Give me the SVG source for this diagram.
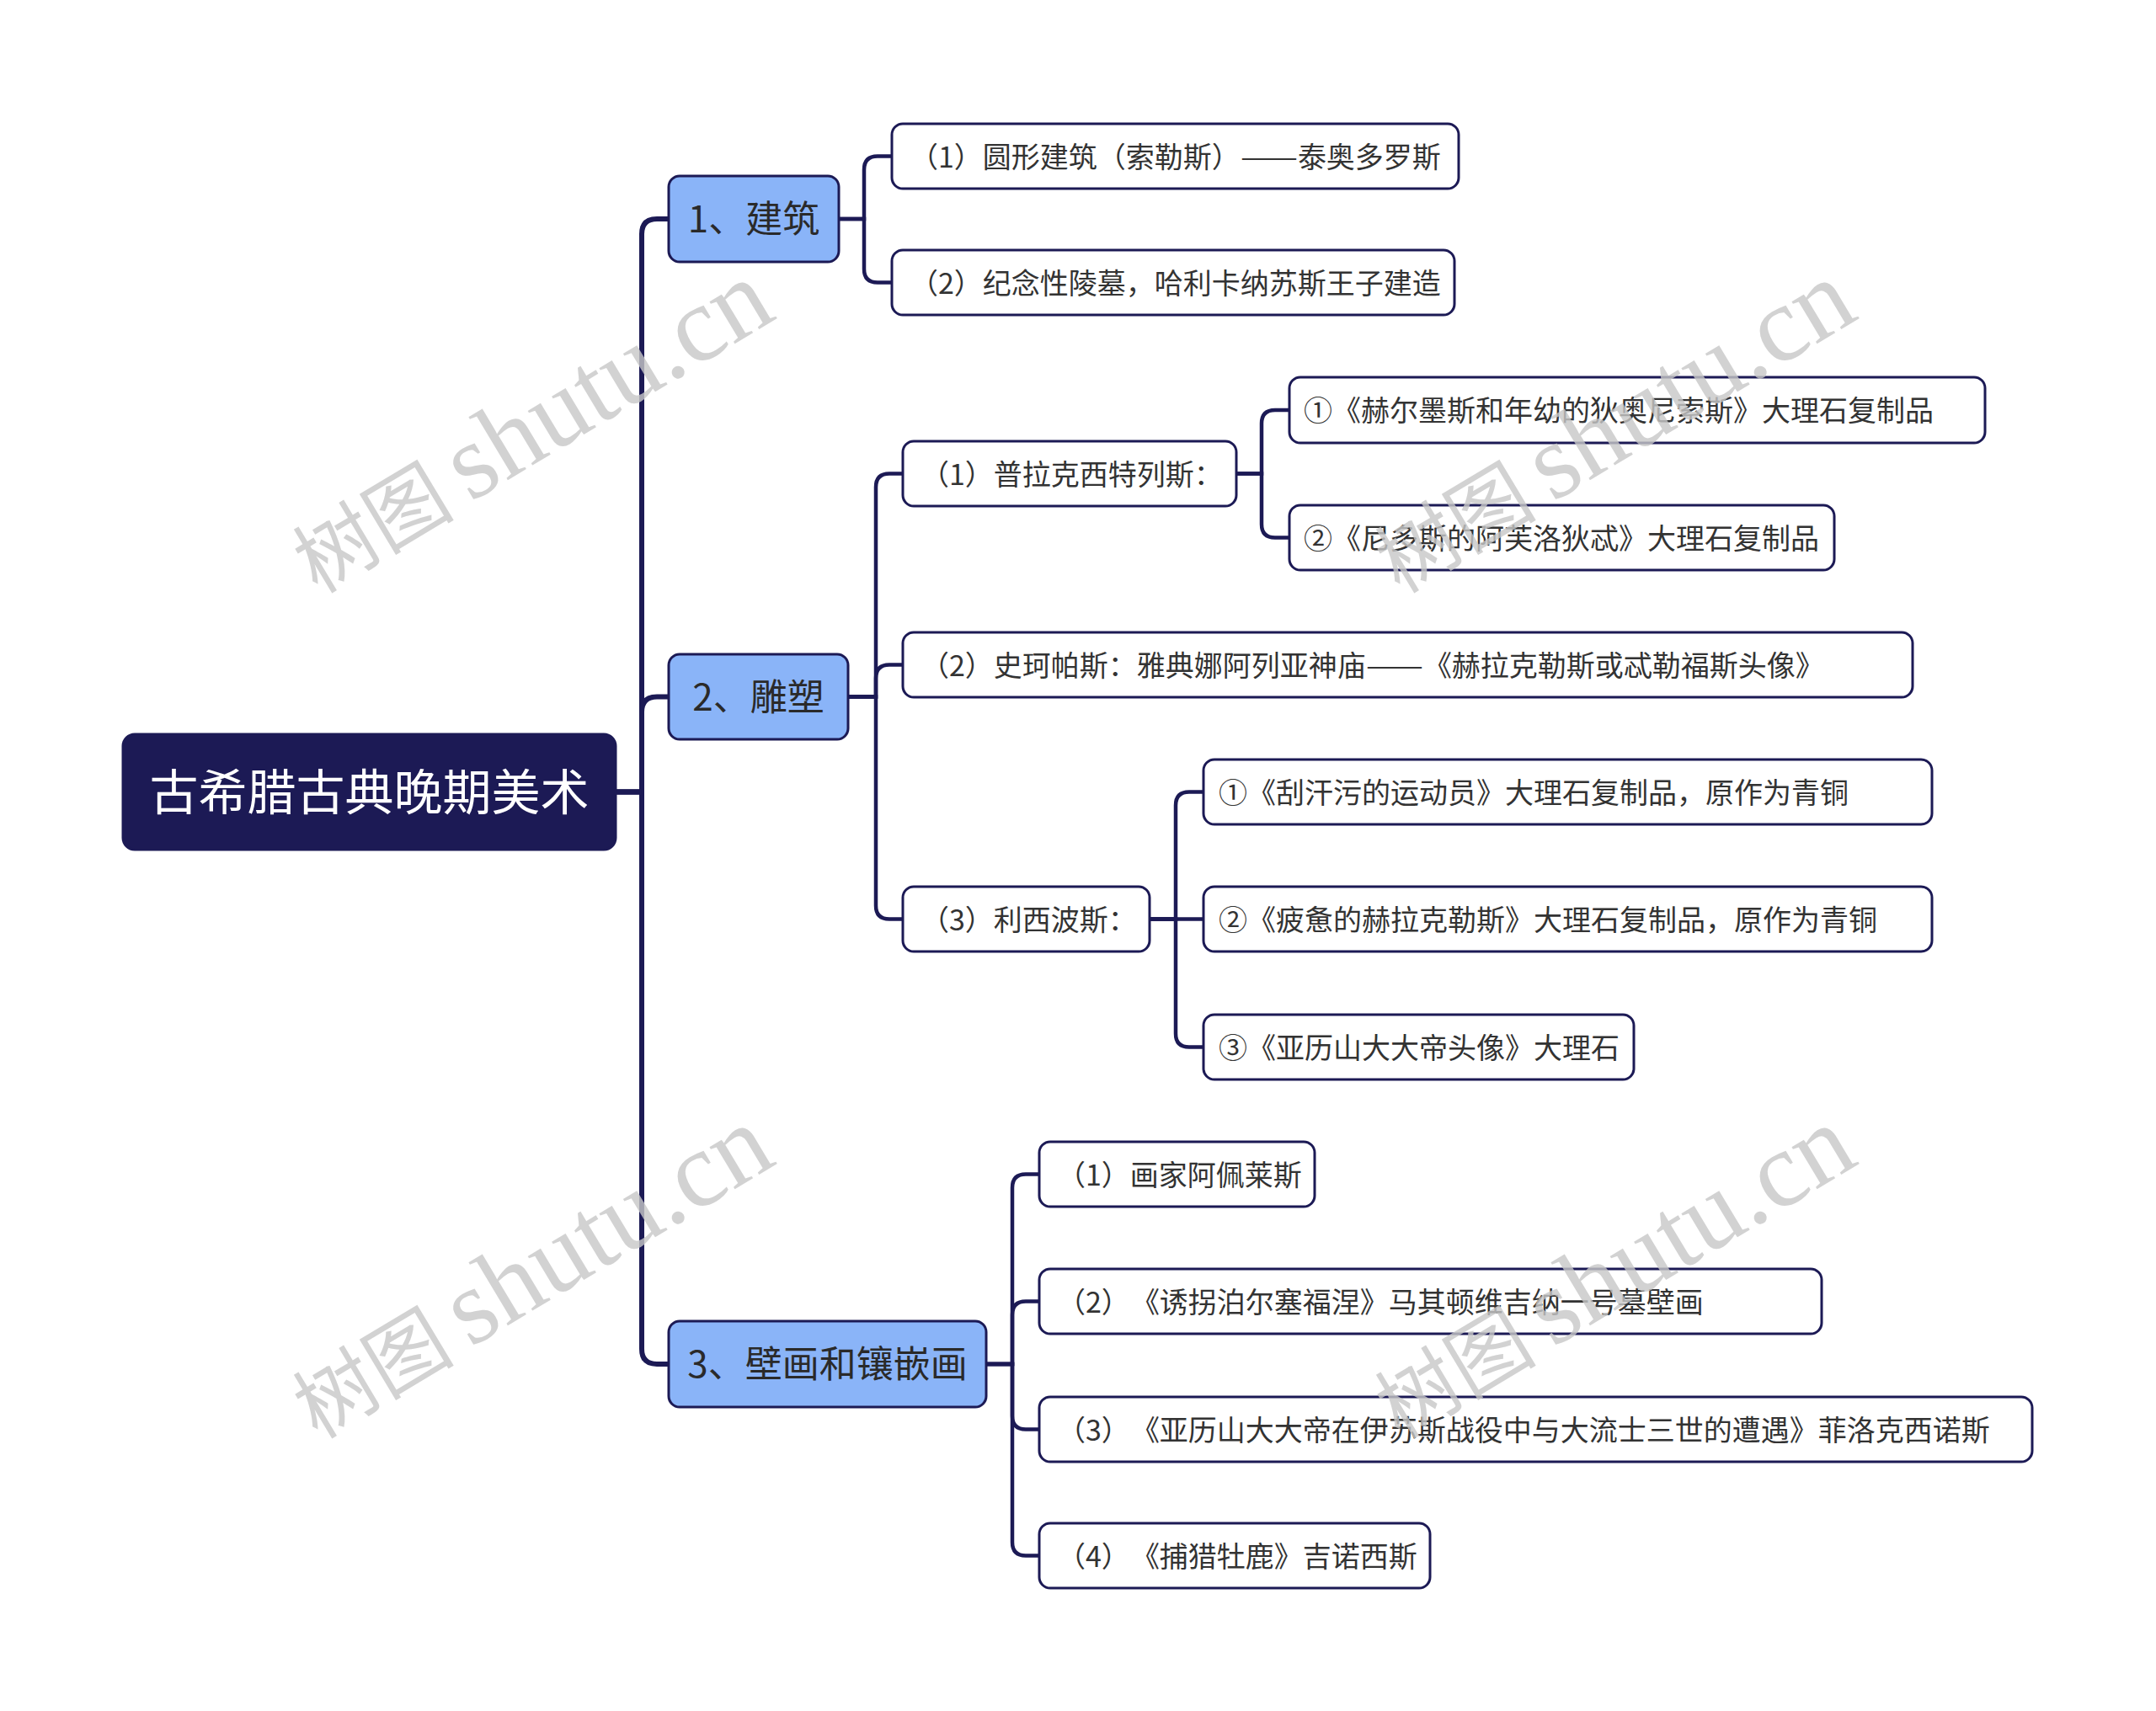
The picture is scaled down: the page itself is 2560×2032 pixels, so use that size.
<svg xmlns="http://www.w3.org/2000/svg" width="2560" height="2032" viewBox="0 0 2560 2032">
<style>
.root{fill:#1c1a55;stroke:#1c1a55;stroke-width:3}
.l1{fill:#8ab4f8;stroke:#1c1a55;stroke-width:3}
.box{fill:#ffffff;stroke:#1c1a55;stroke-width:3}
.t{font-family:"Noto Sans CJK SC","Noto Sans",sans-serif;fill:#333333}
.tr{font-family:"Noto Sans CJK SC","Noto Sans",sans-serif;fill:#ffffff;font-size:58px}
.t1{font-size:44px;fill:#2a2a2a}
.t2{font-size:34px}
.c0{fill:none;stroke:#1c1a55;stroke-width:6}
.c{fill:none;stroke:#1c1a55;stroke-width:4.5}
.wm{font-family:"Liberation Serif","Noto Sans CJK SC",serif;font-size:127px;word-spacing:-12px;fill:#c8c8c8;opacity:0.8}
.wmc{font-size:96px}
</style>
<rect width="2560" height="2032" fill="#ffffff"/>
<g id="connectors">
<path class="c0" d="M731 940.5 H762 V278 Q762 260 780 260 H794"/>
<path class="c0" d="M731 940.5 H762 V845.5 Q762 827.5 780 827.5 H794"/>
<path class="c0" d="M731 940.5 H762 V1602 Q762 1620 780 1620 H794"/>
<path class="c" d="M996 260 H1026 V201.5 Q1026 185.5 1042 185.5 H1059"/>
<path class="c" d="M996 260 H1026 V319.5 Q1026 335.5 1042 335.5 H1059"/>
<path class="c" d="M1007 827.5 H1040 V578.5 Q1040 562.5 1056 562.5 H1072"/>
<path class="c" d="M1007 827.5 H1040 V805.5 Q1040 789.5 1056 789.5 H1072"/>
<path class="c" d="M1007 827.5 H1040 V1075.5 Q1040 1091.5 1056 1091.5 H1072"/>
<path class="c" d="M1468 562.5 H1498 V503 Q1498 487 1514 487 H1531"/>
<path class="c" d="M1468 562.5 H1498 V622.5 Q1498 638.5 1514 638.5 H1531"/>
<path class="c" d="M1365 1091.5 H1396 V956.5 Q1396 940.5 1412 940.5 H1429"/>
<path class="c" d="M1365 1091.5 H1429"/>
<path class="c" d="M1365 1091.5 H1396 V1227.5 Q1396 1243.5 1412 1243.5 H1429"/>
<path class="c" d="M1171 1620 H1202 V1410.5 Q1202 1394.5 1218 1394.5 H1234"/>
<path class="c" d="M1171 1620 H1202 V1561.5 Q1202 1545.5 1218 1545.5 H1234"/>
<path class="c" d="M1171 1620 H1202 V1681.5 Q1202 1697.5 1218 1697.5 H1234"/>
<path class="c" d="M1171 1620 H1202 V1831.5 Q1202 1847.5 1218 1847.5 H1234"/>
</g>
<g id="root">
<rect class="root" x="146" y="872" width="585" height="137" rx="14"/>
<text class="tr" x="438.5" y="961.5" text-anchor="middle">古希腊古典晚期美术</text>
</g>
<g id="n1">
<rect class="l1" x="794" y="209" width="202" height="102" rx="13"/>
<text class="t t1" x="895" y="276" text-anchor="middle">1、建筑</text>
</g>
<g id="n2">
<rect class="l1" x="794" y="777" width="213" height="101" rx="13"/>
<text class="t t1" x="900.5" y="843.5" text-anchor="middle">2、雕塑</text>
</g>
<g id="n3">
<rect class="l1" x="794" y="1569" width="377" height="102" rx="13"/>
<text class="t t1" x="982.5" y="1636" text-anchor="middle">3、壁画和镶嵌画</text>
</g>
<g id="n1a">
<rect class="box" x="1059" y="147" width="673" height="77" rx="13"/>
<text class="t t2" x="1080" y="198.5">（1）圆形建筑（索勒斯）<tspan textLength="68" lengthAdjust="spacingAndGlyphs">——</tspan>泰奥多罗斯</text>
</g>
<g id="n1b">
<rect class="box" x="1059" y="297" width="668" height="77" rx="13"/>
<text class="t t2" x="1080" y="348.5">（2）纪念性陵墓，哈利卡纳苏斯王子建造</text>
</g>
<g id="n2a">
<rect class="box" x="1072" y="524" width="396" height="77" rx="13"/>
<text class="t t2" x="1093" y="575.5">（1）普拉克西特列斯：</text>
</g>
<g id="n2a1">
<rect class="box" x="1531" y="448" width="826" height="78" rx="13"/>
<text class="t t2" x="1548" y="500">①《赫尔墨斯和年幼的狄奥尼索斯》大理石复制品</text>
</g>
<g id="n2a2">
<rect class="box" x="1531" y="600" width="647" height="77" rx="13"/>
<text class="t t2" x="1548" y="651.5">②《尼多斯的阿芙洛狄忒》大理石复制品</text>
</g>
<g id="n2b">
<rect class="box" x="1072" y="751" width="1199" height="77" rx="13"/>
<text class="t t2" x="1093" y="802.5">（2）史珂帕斯：雅典娜阿列亚神庙<tspan textLength="68" lengthAdjust="spacingAndGlyphs">——</tspan>《赫拉克勒斯或忒勒福斯头像》</text>
</g>
<g id="n2c">
<rect class="box" x="1072" y="1053" width="293" height="77" rx="13"/>
<text class="t t2" x="1093" y="1104.5">（3）利西波斯：</text>
</g>
<g id="n2c1">
<rect class="box" x="1429" y="902" width="865" height="77" rx="13"/>
<text class="t t2" x="1447" y="953.5">①《刮汗污的运动员》大理石复制品，原作为青铜</text>
</g>
<g id="n2c2">
<rect class="box" x="1429" y="1053" width="865" height="77" rx="13"/>
<text class="t t2" x="1447" y="1104.5">②《疲惫的赫拉克勒斯》大理石复制品，原作为青铜</text>
</g>
<g id="n2c3">
<rect class="box" x="1429" y="1205" width="511" height="77" rx="13"/>
<text class="t t2" x="1447" y="1256.5">③《亚历山大大帝头像》大理石</text>
</g>
<g id="n3a">
<rect class="box" x="1234" y="1356" width="327" height="77" rx="13"/>
<text class="t t2" x="1255" y="1407.5">（1）画家阿佩莱斯</text>
</g>
<g id="n3b">
<rect class="box" x="1234" y="1507" width="929" height="77" rx="13"/>
<text class="t t2" x="1255" y="1558.5">（2）<tspan dx="18">《诱拐泊尔塞福涅》马其顿维吉纳一号墓壁画</tspan></text>
</g>
<g id="n3c">
<rect class="box" x="1234" y="1659" width="1179" height="77" rx="13"/>
<text class="t t2" x="1255" y="1710.5">（3）<tspan dx="18">《亚历山大大帝在伊苏斯战役中与大流士三世的遭遇》菲洛克西诺斯</tspan></text>
</g>
<g id="n3d">
<rect class="box" x="1234" y="1809" width="464" height="77" rx="13"/>
<text class="t t2" x="1255" y="1860.5">（4）<tspan dx="18">《捕猎牡鹿》吉诺西斯</tspan></text>
</g>
<g id="watermarks">
<text class="wm" x="377" y="706" transform="rotate(-31 377 706)"><tspan class="wmc">树图</tspan> shutu.cn</text>
<text class="wm" x="1662" y="706" transform="rotate(-31 1662 706)"><tspan class="wmc">树图</tspan> shutu.cn</text>
<text class="wm" x="377" y="1710" transform="rotate(-31 377 1710)"><tspan class="wmc">树图</tspan> shutu.cn</text>
<text class="wm" x="1662" y="1710" transform="rotate(-31 1662 1710)"><tspan class="wmc">树图</tspan> shutu.cn</text>
</g>
</svg>
